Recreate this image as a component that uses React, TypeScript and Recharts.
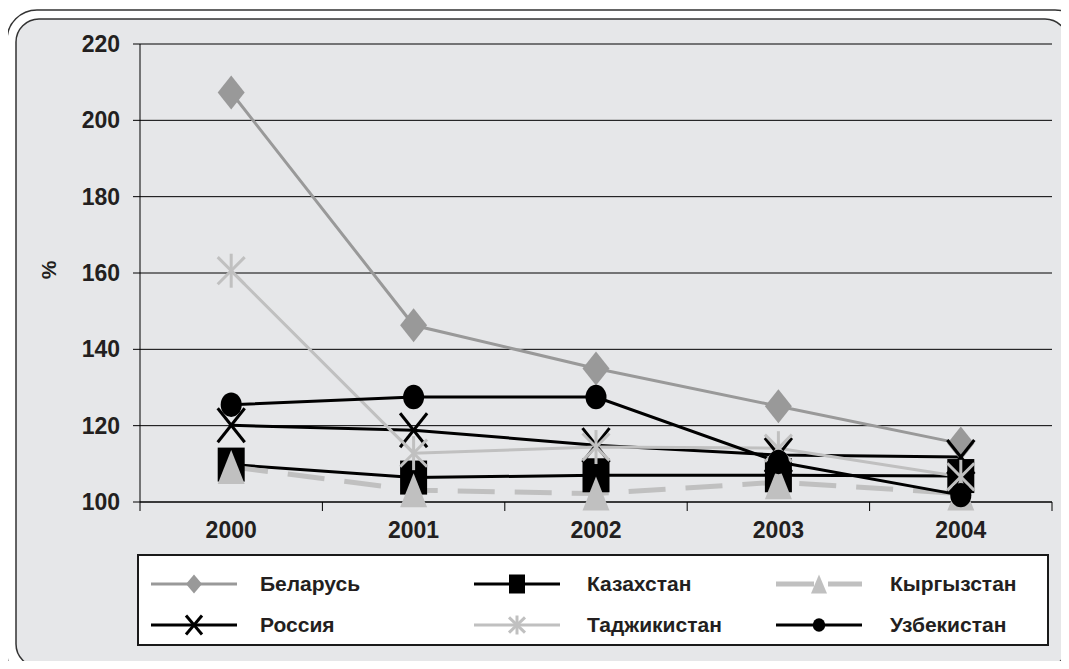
import React, { useLayoutEffect } from 'react';
import { LineChart, Line, XAxis, YAxis, CartesianGrid } from 'recharts';

const years = ['2000', '2001', '2002', '2003', '2004'];
const belarus = [207.3, 146.3, 135.0, 125.1, 115.3];
const kazakhstan = [109.8, 106.4, 107.0, 107.0, 106.8];
const kyrgyzstan = [109.2, 103.1, 102.2, 105.2, 102.2];
const russia = [120.1, 118.8, 114.9, 112.3, 111.8];
const tajikistan = [160.6, 112.8, 114.4, 114.1, 106.6];
const uzbekistan = [125.5, 127.5, 127.5, 110.5, 101.8];
const yTicks = [100, 120, 140, 160, 180, 200, 220];

type Marker = 'diamond' | 'square' | 'triangle' | 'x' | 'star' | 'circle';

interface SeriesDef {
  key: string;
  name: string;
  values: number[];
  color: string;
  width: number;
  dash?: string;
  marker: Marker;
}

const series: SeriesDef[] = [
  { key: 'by', name: 'Беларусь', values: belarus, color: '#999999', width: 3, marker: 'diamond' },
  { key: 'kz', name: 'Казахстан', values: kazakhstan, color: '#000000', width: 3, marker: 'square' },
  { key: 'kg', name: 'Кыргызстан', values: kyrgyzstan, color: '#c0c0c0', width: 5, dash: '37 20', marker: 'triangle' },
  { key: 'ru', name: 'Россия', values: russia, color: '#000000', width: 3, marker: 'x' },
  { key: 'tj', name: 'Таджикистан', values: tajikistan, color: '#c0c0c0', width: 3, marker: 'star' },
  { key: 'uz', name: 'Узбекистан', values: uzbekistan, color: '#000000', width: 3, marker: 'circle' },
];

const data = years.map((y, i) => {
  const row: Record<string, string | number> = { year: y };
  series.forEach((s) => {
    row[s.key] = s.values[i];
  });
  return row;
});

const FONT = '"Liberation Sans", Arial, sans-serif';
const TEXT = '#231f20';

function markerShape(kind: Marker, cx: number, cy: number, color: string, hw: number, hh: number, sw: number, key?: string) {
  switch (kind) {
    case 'diamond':
      return <polygon key={key} points={`${cx},${cy - hh} ${cx + hw},${cy} ${cx},${cy + hh} ${cx - hw},${cy}`} fill={color} />;
    case 'square':
      return <rect key={key} x={cx - hw} y={cy - hh} width={hw * 2} height={hh * 2} fill={color} />;
    case 'triangle':
      return <polygon key={key} points={`${cx},${cy - hh} ${cx + hw},${cy + hh} ${cx - hw},${cy + hh}`} fill={color} />;
    case 'x':
      return (
        <g key={key} stroke={color} strokeWidth={sw}>
          <line x1={cx - hw} y1={cy - hh} x2={cx + hw} y2={cy + hh} />
          <line x1={cx - hw} y1={cy + hh} x2={cx + hw} y2={cy - hh} />
        </g>
      );
    case 'star':
      return (
        <g key={key} stroke={color} strokeWidth={sw}>
          <line x1={cx - hw} y1={cy - hh * 0.8} x2={cx + hw} y2={cy + hh * 0.8} />
          <line x1={cx - hw} y1={cy + hh * 0.8} x2={cx + hw} y2={cy - hh * 0.8} />
          <line x1={cx} y1={cy - hh} x2={cx} y2={cy + hh} />
        </g>
      );
    case 'circle':
    default:
      return <ellipse key={key} cx={cx} cy={cy} rx={hw * 0.78} ry={hh * 0.72} fill={color} />;
  }
}

const makeDot = (s: SeriesDef) => (props: any) => {
  const { cx, cy, index } = props;
  if (cx == null || cy == null) return <g key={`${s.key}-${index}`} />;
  return markerShape(s.marker, cx, cy, s.color, 13.5, 17, 3, `${s.key}-${index}`);
};

// Category label at band centre plus tick marks at band boundaries.
const CatTick = (props: any) => {
  const { x, y, payload, index, visibleTicksCount, width } = props;
  const half =
    payload && payload.offset ? payload.offset : width && visibleTicksCount ? width / visibleTicksCount / 2 : 91;
  const axisY = y - 20;
  const isLast = index === (visibleTicksCount || 5) - 1;
  return (
    <g>
      <line x1={x - half} y1={axisY} x2={x - half} y2={axisY + 9} stroke="#000" strokeWidth={1} />
      {isLast && <line x1={x + half} y1={axisY} x2={x + half} y2={axisY + 9} stroke="#000" strokeWidth={1} />}
      <text x={x} y={y} dy="0.71em" textAnchor="middle" fontFamily={FONT} fontWeight="bold" fontSize={23} fill={TEXT}>
        {payload.value}
      </text>
    </g>
  );
};

const legendCols = [12, 335, 637];
const legendTextCols = [121, 448, 751];
const legendRows = [28, 69];

function LegendBox() {
  return (
    <div
      style={{
        position: 'absolute',
        left: 129,
        top: 546,
        width: 908,
        height: 88,
        border: '2px solid #1a1a1a',
        background: '#ffffff',
        boxSizing: 'content-box',
      }}
    >
      {series.map((s, i) => {
        const col = i % 3;
        const row = Math.floor(i / 3);
        const cy = legendRows[row];
        return (
          <React.Fragment key={s.key}>
            <svg width={90} height={30} style={{ position: 'absolute', left: legendCols[col], top: cy - 15 }}>
              <line
                x1={0}
                y1={15}
                x2={86}
                y2={15}
                stroke={s.color}
                strokeWidth={s.marker === 'triangle' ? 5 : 3}
                strokeDasharray={s.dash ? '38 14' : undefined}
              />
              {markerShape(s.marker, 43, 15, s.color, 8, 9.5, 3)}
            </svg>
            <div
              style={{
                position: 'absolute',
                left: legendTextCols[col],
                top: cy - 14,
                height: 28,
                lineHeight: '28px',
                fontFamily: FONT,
                fontWeight: 'bold',
                fontSize: 21,
                color: TEXT,
                whiteSpace: 'nowrap',
              }}
            >
              {s.name}
            </div>
          </React.Fragment>
        );
      })}
    </div>
  );
}

export default function App() {
  useLayoutEffect(() => {
    document.documentElement.style.overflow = 'hidden';
    document.body.style.overflow = 'hidden';
  }, []);
  return (
    <div style={{ position: 'relative', width: 1053, height: 653 }}>
      <svg
        width={1061}
        height={661}
        style={{ position: 'absolute', left: 0, top: 0, overflow: 'hidden' }}
      >
        <rect x={-1} y={2} width={1078} height={674} rx={30} ry={30} fill="#ffffff" stroke="#333333" strokeWidth={1.5} />
        <rect x={8} y={11} width={1052} height={648} rx={23} ry={23} fill="#e6e7e9" stroke="#333333" strokeWidth={1.5} />
      </svg>
      <div style={{ position: 'absolute', left: 0, top: 0 }}>
        <LineChart width={1061} height={661} data={data} margin={{ top: 36, right: 17, left: 0, bottom: 127 }}>
          <CartesianGrid horizontal vertical={false} stroke="#000000" strokeWidth={1} />
          <XAxis
            dataKey="year"
            type="category"
            scale="band"
            height={40}
            axisLine={{ stroke: '#000000', strokeWidth: 1 }}
            tickLine={false}
            tickSize={0}
            tickMargin={20}
            tick={<CatTick />}
            interval={0}
          />
          <YAxis
            domain={[100, 220]}
            ticks={yTicks}
            width={132}
            tickSize={7}
            tickMargin={13}
            interval={0}
            axisLine={{ stroke: '#000000', strokeWidth: 1 }}
            tickLine={{ stroke: '#000000', strokeWidth: 1 }}
            tick={{ fontFamily: FONT, fontWeight: 'bold', fontSize: 23, fill: TEXT }}
            label={(props: any) => {
              const vb = props.viewBox || { x: 0, y: 36, width: 132, height: 458 };
              const x = vb.x + 40;
              const y = vb.y + vb.height / 2 - 3;
              return (
                <text
                  x={x}
                  y={y}
                  transform={`rotate(-90 ${x} ${y})`}
                  textAnchor="middle"
                  dominantBaseline="central"
                  fontFamily={FONT}
                  fontWeight="bold"
                  fontSize={21}
                  fill={TEXT}
                >
                  %
                </text>
              );
            }}
          />
          {series.map((s) => (
            <Line
              key={s.key}
              dataKey={s.key}
              name={s.name}
              stroke={s.color}
              strokeWidth={s.width}
              strokeDasharray={s.dash}
              dot={makeDot(s)}
              activeDot={false}
              isAnimationActive={false}
              type="linear"
            />
          ))}
        </LineChart>
      </div>
      <LegendBox />
    </div>
  );
}
